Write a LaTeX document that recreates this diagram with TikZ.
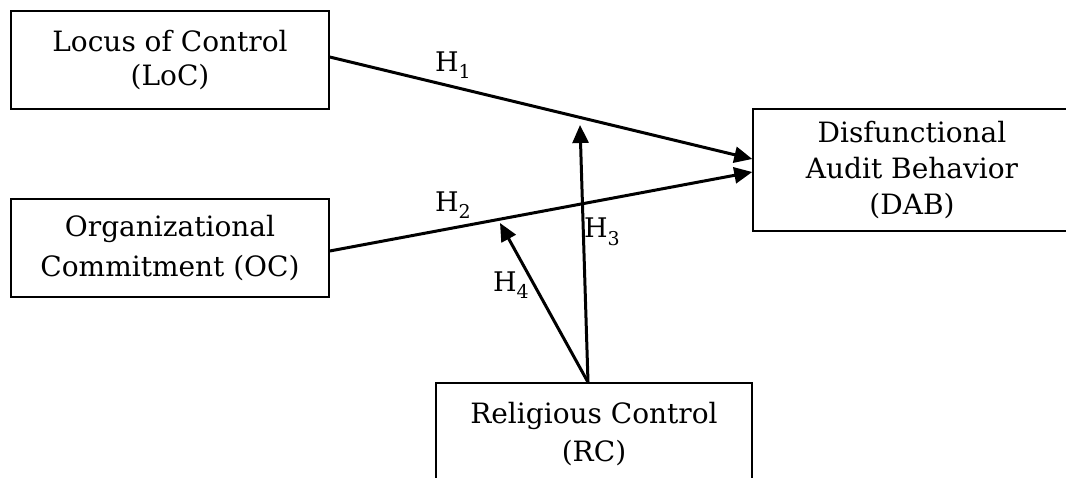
\documentclass[tikz,border=0pt]{standalone}
\usepackage{fontspec}
\setmainfont{DejaVu Serif}
\usetikzlibrary{arrows.meta}
\tikzset{
  box/.style={draw=black, line width=1.5pt, align=center, inner sep=0pt,
    font=\fontsize{28}{34}\selectfont},
  link/.style={line width=3pt, -{Triangle[length=18pt,width=16pt]}},
  hlab/.style={font=\fontsize{27}{30}\selectfont, inner sep=0pt}
}
\newcommand{\hsub}[2]{#1\raisebox{-0.28em}{\fontsize{19}{20}\selectfont #2}}
\begin{document}
\begin{tikzpicture}[x=1pt,y=-1pt]
\useasboundingbox (0,0) rectangle (1066,477);
\clip (0,0) rectangle (1066,477);
\fill[white] (0,0) rectangle (1066,477);
\node[box, minimum width=318pt, minimum height=98pt] (loc) at (170,60) {Locus of Control\\(LoC)};
\node[box, minimum width=318pt, minimum height=98pt, font=\fontsize{28}{40}\selectfont] (oc) at (170,248) {Organizational\\Commitment (OC)};
\node[box, minimum width=318pt, minimum height=122pt, font=\fontsize{28}{36}\selectfont] (dab) at (912,170) {Disfunctional\\Audit Behavior\\(DAB)};
\node[box, minimum width=316pt, minimum height=102pt, font=\fontsize{28}{38}\selectfont] (rc) at (594,434) {Religious Control\\(RC)};
\coordinate (rcs) at ([xshift=-6pt]rc.north);
\coordinate (h3end) at (580,125);
\coordinate (h4end) at (500,223);
\draw[link] ([yshift=3pt]loc.east) -- ([yshift=11pt]dab.west);
\draw[link] ([yshift=-3pt]oc.east) -- ([yshift=-2pt]dab.west);
\draw[link] (rcs) -- (h3end);
\draw[link] (rcs) -- (h4end);
\node[hlab] (h1) at (453,65) {\hsub{H}{1}};
\node[hlab] (h2) at (453,205) {\hsub{H}{2}};
\node[hlab] (h3) at (602,232) {\hsub{H}{3}};
\node[hlab] (h4) at (511,285) {\hsub{H}{4}};
\end{tikzpicture}
\end{document}
